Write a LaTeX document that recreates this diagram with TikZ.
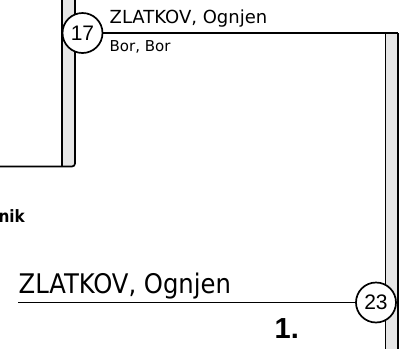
\documentclass[tikz,border=0pt]{standalone}
\usepackage{fontspec}
\setmainfont{DejaVu Sans}
\newfontfamily\condfont{DejaVu Sans Condensed}
\newfontfamily\arialfont{Liberation Sans}
\definecolor{barfill}{HTML}{E6E6E6}
\begin{document}
\begin{tikzpicture}[x=1bp,y=-1bp,
  line/.style={line width=1.9bp,black},
  barline/.style={line width=1.7bp,black},
  seed/.style={circle,draw,line width=1.7bp,fill=white,minimum size=40bp,inner sep=0pt,
    font=\arialfont\fontsize{21bp}{22bp}\selectfont},
  lbl/.style={inner sep=0pt,anchor=base west}]
\useasboundingbox (0,0) rectangle (406,349);
% left bar
\fill[barfill] (62,-3) -- (62,166.5) -- (72,166.5) arc[start angle=90,end angle=0,radius=3] -- (75,-3) -- cycle;
\draw[barline] (0,166.5) -- (72,166.5) arc[start angle=90,end angle=0,radius=3] -- (75,-3);
\draw[barline] (62,-3) -- (62,166.5);
% right bar
\coordinate (rtop) at (398,33);
\fill[barfill] (385.5,33) rectangle (398,352);
\draw[barline] (385.5,33) -- (385.5,352);
\draw[barline] (398,33) -- (398,352);
% seeds
\node[seed] (c17) at (82.5,33) {17};
\draw[line] (c17) -- (rtop);
\node[seed] (c23) at (376,302.5) {23};
\coordinate (lstart) at (18,302.5);
\draw[line] (lstart) -- (c23);
% texts
\node[lbl,font=\fontsize{18bp}{20bp}\selectfont] (n1) at (109.5,23.5) {ZLATKOV, Ognjen};
\node[lbl,font=\fontsize{15bp}{17bp}\selectfont] (n2) at (109.5,51.7) {Bor, Bor};
\node[inner sep=0pt,anchor=base east,font=\condfont\bfseries\fontsize{17bp}{19bp}\selectfont] (n3) at (25,222) {nik};
\node[lbl,font=\condfont\fontsize{27bp}{30bp}\selectfont] (n4) at (18.5,293.3) {ZLATKOV, Ognjen};
\node[lbl,font=\arialfont\bfseries\fontsize{29bp}{30bp}\selectfont] (n5) at (274.5,338.3) {1.};
\end{tikzpicture}
\end{document}
